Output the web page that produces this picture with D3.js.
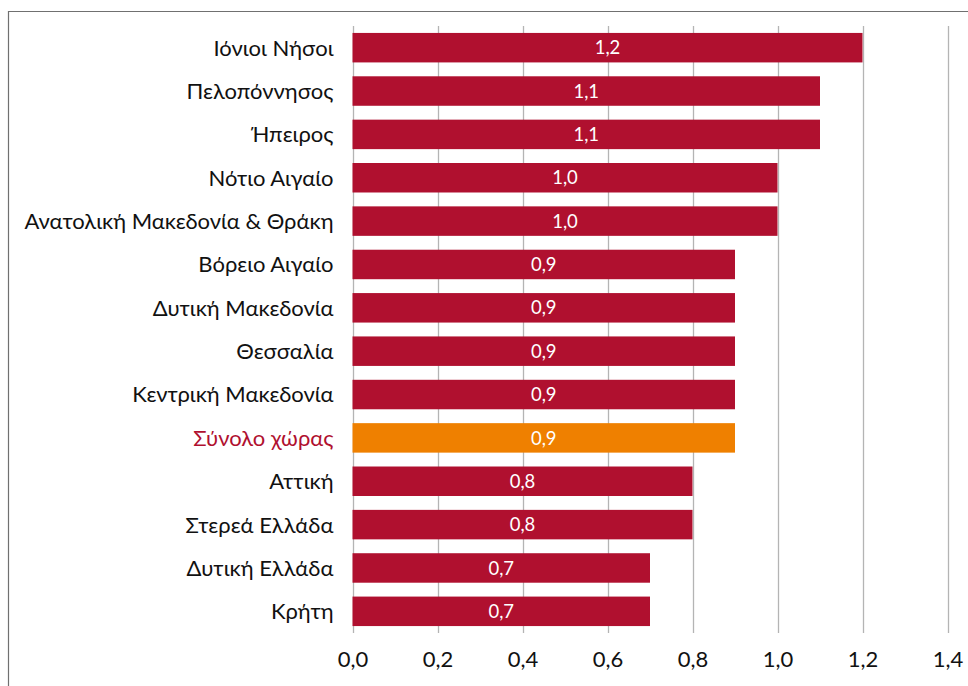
<!DOCTYPE html>
<html><head><meta charset="utf-8">
<script src="https://cdn.jsdelivr.net/npm/d3@7"></script>
<style>body{margin:0;background:#fff}svg{display:block}</style>
</head><body>
<svg id="c" width="968" height="686"></svg>
<script>
const categories = ["Ιόνιοι Νήσοι","Πελοπόννησος","Ήπειρος","Νότιο Αιγαίο","Ανατολική Μακεδονία & Θράκη","Βόρειο Αιγαίο","Δυτική Μακεδονία","Θεσσαλία","Κεντρική Μακεδονία","Σύνολο χώρας","Αττική","Στερεά Ελλάδα","Δυτική Ελλάδα","Κρήτη"];
const values = [1.2,1.1,1.1,1.0,1.0,0.9,0.9,0.9,0.9,0.9,0.8,0.8,0.7,0.7];
const highlight = "Σύνολο χώρας";
const xTicks = [0,0.2,0.4,0.6,0.8,1.0,1.2,1.4];

const svg = d3.select("#c");
const font = "Lato, 'Open Sans', sans-serif";
const fmt = v => d3.format(".1f")(v).replace(".", ",");

svg.append("path").attr("d","M8.5,686 V11.5 H968").attr("fill","none").attr("stroke","#707070").attr("stroke-width",1.2);

const x = d3.scaleLinear().domain([0,1.4]).range([352.5,947.5]);
const y = d3.scaleBand().domain(categories).range([26,633]).paddingInner(0.32).paddingOuter(0.16);

svg.append("g").selectAll("line").data(xTicks).join("line")
  .attr("x1",d=>Math.round(x(d))+0.5).attr("x2",d=>Math.round(x(d))+0.5)
  .attr("y1",26).attr("y2",633).attr("stroke","#b4b4b4").attr("stroke-width",1.3);

svg.append("g").selectAll("rect").data(values).join("rect")
  .attr("x",x(0)).attr("y",(d,i)=>y(categories[i]))
  .attr("width",d=>x(d)-x(0)).attr("height",y.bandwidth())
  .attr("fill",(d,i)=>categories[i]===highlight?"#EF8000":"#B0102F");

svg.append("g").selectAll("text").data(values).join("text")
  .attr("x",d=>(x(0)+x(d))/2).attr("y",(d,i)=>y(categories[i])+y.bandwidth()/2)
  .attr("dy","0.36em").attr("text-anchor","middle")
  .attr("fill","#fff").attr("font-family",font).attr("font-size",18.5)
  .text(d=>fmt(d));

const yAxis = d3.axisLeft(y).tickSize(0).tickPadding(19);
const gy = svg.append("g").attr("transform",`translate(${x(0)},0)`).call(yAxis);
gy.select(".domain").remove();
gy.selectAll("text").attr("font-family",font).attr("font-size",22)
  .attr("fill",d=>d===highlight?"#B0102F":"#111").attr("dy","0.36em");

const xAxis = d3.axisBottom(x).tickValues(xTicks).tickSize(0).tickPadding(0).tickFormat(fmt);
const gx = svg.append("g").attr("transform","translate(0,651)").call(xAxis);
gx.select(".domain").remove();
gx.selectAll("text").attr("font-family",font).attr("font-size",22).attr("fill","#111");
</script>
</body></html>
